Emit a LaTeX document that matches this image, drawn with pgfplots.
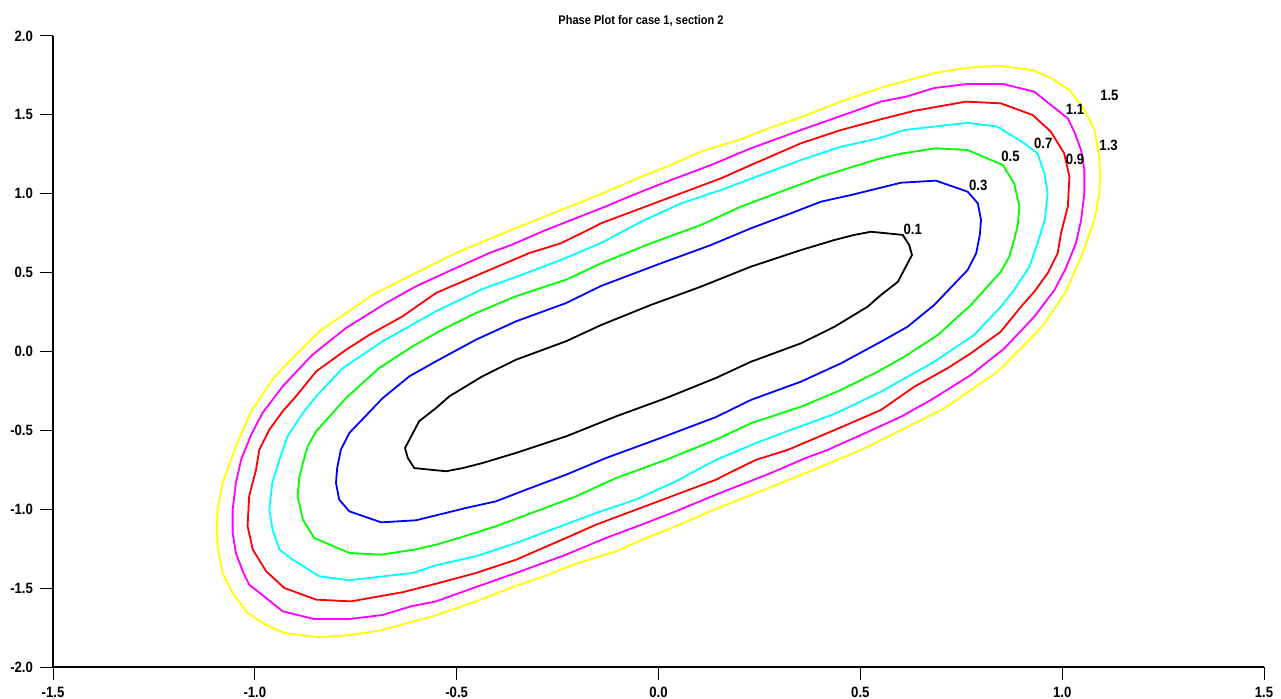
\documentclass[border=0pt]{standalone}
\usepackage{fontspec}
\usepackage{pgfplots}
\pgfplotsset{compat=1.18}
\newfontfamily\condfont[FakeStretch=0.88]{Liberation Sans}
\definecolor{cyellow}{RGB}{255,255,0}
\definecolor{cmagenta}{RGB}{255,0,255}
\definecolor{cred}{RGB}{255,0,0}
\definecolor{ccyan}{RGB}{0,255,255}
\definecolor{cgreen}{RGB}{0,255,0}
\definecolor{cblue}{RGB}{0,0,255}
\begin{document}
\begin{tikzpicture}
\begin{axis}[
  scale only axis, width=605.5bp, height=315.5bp,
  xmin=-1.5, xmax=1.5, ymin=-2, ymax=2,
  axis x line*=bottom, axis y line*=left,
  x axis line style={-, line width=1.3bp},
  y axis line style={-, line width=0.6bp},
  xtick={-1.5,-1,-0.5,0,0.5,1,1.5},
  xticklabels={{-1.5},{-1.0},{-0.5},{0.0},{0.5},{1.0},{1.5}},
  ytick={-2,-1.5,-1,-0.5,0,0.5,1,1.5,2},
  yticklabels={{-2.0},{-1.5},{-1.0},{-0.5},{0.0},{0.5},{1.0},{1.5},{2.0}},
  tick align=outside,
  major tick length=6.5bp,
  major tick style={line width=0.5bp, black},
  tick label style={font=\condfont\bfseries\fontsize{7.5}{8}\selectfont},
  /pgf/number format/assume math mode=true,
  title={Phase Plot for case 1, section 2},
  title style={at={(axis description cs:0.4856,1)}, anchor=center, yshift=1.75bp, inner sep=0pt, font=\condfont\bfseries\fontsize{6.3}{7}\selectfont},
  every axis plot/.append style={line width=0.9bp, mark=none},
]
% yellow 1.5
\addplot[cyellow] coordinates {
(-0.142,0.998) (-0.043,1.108) (0.031,1.182) (0.105,1.267) (0.204,1.345) (0.279,1.421) (0.353,1.485) (0.452,1.584) (0.551,1.672) (0.687,1.767) (0.762,1.797) (0.840,1.812) (0.927,1.784) (0.972,1.734) (1.018,1.658) (1.055,1.531) (1.080,1.404) (1.092,1.235) (1.094,1.119) (1.092,1.003) (1.080,0.834) (1.047,0.601) (1.009,0.379) (0.957,0.181) (0.931,0.105) (0.840,-0.128) (0.708,-0.360) (0.601,-0.498) (0.502,-0.624) (0.365,-0.770) (0.254,-0.884) (0.142,-0.998)
(0.043,-1.108) (-0.031,-1.182) (-0.105,-1.267) (-0.204,-1.345) (-0.279,-1.421) (-0.353,-1.485) (-0.452,-1.584) (-0.551,-1.672) (-0.687,-1.767) (-0.762,-1.797) (-0.840,-1.812) (-0.927,-1.784) (-0.972,-1.734) (-1.018,-1.658) (-1.055,-1.531) (-1.080,-1.404) (-1.092,-1.235) (-1.094,-1.119) (-1.092,-1.003) (-1.080,-0.834) (-1.047,-0.601) (-1.009,-0.379) (-0.957,-0.181) (-0.931,-0.105) (-0.840,0.128) (-0.708,0.360) (-0.601,0.498) (-0.502,0.624) (-0.365,0.770) (-0.254,0.884) (-0.142,0.998)
};
% magenta 1.3
\addplot[cmagenta] coordinates {
(-0.142,0.908) (-0.043,1.013) (0.031,1.087) (0.130,1.182) (0.229,1.288) (0.353,1.404) (0.452,1.493) (0.551,1.584) (0.613,1.615) (0.683,1.670) (0.766,1.696) (0.853,1.696) (0.931,1.647) (0.972,1.563) (1.014,1.478) (1.030,1.393) (1.047,1.277) (1.055,1.151) (1.055,1.003) (1.047,0.834) (1.034,0.686) (1.009,0.527) (0.981,0.390) (0.931,0.221) (0.857,0.020) (0.774,-0.149) (0.675,-0.307) (0.601,-0.413) (0.502,-0.529) (0.419,-0.624) (0.365,-0.675) (0.279,-0.770) (0.142,-0.908)
(0.043,-1.013) (-0.031,-1.087) (-0.130,-1.182) (-0.229,-1.288) (-0.353,-1.404) (-0.452,-1.493) (-0.551,-1.584) (-0.613,-1.615) (-0.683,-1.670) (-0.766,-1.696) (-0.853,-1.696) (-0.931,-1.647) (-0.972,-1.563) (-1.014,-1.478) (-1.030,-1.393) (-1.047,-1.277) (-1.055,-1.151) (-1.055,-1.003) (-1.047,-0.834) (-1.034,-0.686) (-1.009,-0.527) (-0.981,-0.390) (-0.931,-0.221) (-0.857,-0.020) (-0.774,0.149) (-0.675,0.307) (-0.601,0.413) (-0.502,0.529) (-0.419,0.624) (-0.365,0.675) (-0.279,0.770) (-0.142,0.908)
};
% red 1.1
\addplot[cred] coordinates {
(-0.142,0.813) (-0.043,0.908) (0.056,1.003) (0.155,1.098) (0.229,1.182) (0.353,1.320) (0.452,1.404) (0.551,1.472) (0.634,1.526) (0.762,1.584) (0.848,1.573) (0.927,1.499) (0.972,1.393) (1.005,1.256) (1.018,1.108) (1.014,0.918) (0.997,0.749) (0.989,0.623) (0.964,0.496) (0.931,0.379) (0.898,0.284) (0.848,0.126) (0.774,-0.011) (0.716,-0.106) (0.634,-0.223) (0.551,-0.371) (0.436,-0.498) (0.320,-0.624) (0.242,-0.686) (0.175,-0.770) (0.142,-0.813)
(0.043,-0.908) (-0.056,-1.003) (-0.155,-1.098) (-0.229,-1.182) (-0.353,-1.320) (-0.452,-1.404) (-0.551,-1.472) (-0.634,-1.526) (-0.762,-1.584) (-0.848,-1.573) (-0.927,-1.499) (-0.972,-1.393) (-1.005,-1.256) (-1.018,-1.108) (-1.014,-0.918) (-0.997,-0.749) (-0.989,-0.623) (-0.964,-0.496) (-0.931,-0.379) (-0.898,-0.284) (-0.848,-0.126) (-0.774,0.011) (-0.716,0.106) (-0.634,0.223) (-0.551,0.371) (-0.436,0.498) (-0.320,0.624) (-0.242,0.686) (-0.175,0.770) (-0.142,0.813)
};
% cyan 0.9
\addplot[ccyan] coordinates {
(-0.142,0.688) (-0.043,0.823) (0.056,0.939) (0.155,1.024) (0.254,1.119) (0.353,1.214) (0.452,1.298) (0.551,1.355) (0.609,1.404) (0.766,1.450) (0.840,1.425) (0.906,1.320) (0.939,1.256) (0.956,1.130) (0.964,1.003) (0.957,0.834) (0.939,0.686) (0.919,0.538) (0.881,0.390) (0.848,0.284) (0.782,0.105) (0.683,-0.065) (0.617,-0.160) (0.551,-0.255) (0.436,-0.396) (0.320,-0.504) (0.242,-0.580) (0.142,-0.688)
(0.043,-0.823) (-0.056,-0.939) (-0.155,-1.024) (-0.254,-1.119) (-0.353,-1.214) (-0.452,-1.298) (-0.551,-1.355) (-0.609,-1.404) (-0.766,-1.450) (-0.840,-1.425) (-0.906,-1.320) (-0.939,-1.256) (-0.956,-1.130) (-0.964,-1.003) (-0.957,-0.834) (-0.939,-0.686) (-0.919,-0.538) (-0.881,-0.390) (-0.848,-0.284) (-0.782,-0.105) (-0.683,0.065) (-0.617,0.160) (-0.551,0.255) (-0.436,0.396) (-0.320,0.504) (-0.242,0.580) (-0.142,0.688)
};
% green 0.7
\addplot[cgreen] coordinates {
(-0.142,0.559) (-0.019,0.686) (0.105,0.802) (0.204,0.918) (0.303,1.013) (0.403,1.108) (0.477,1.168) (0.551,1.225) (0.605,1.256) (0.687,1.288) (0.766,1.277) (0.853,1.182) (0.881,1.066) (0.894,0.918) (0.890,0.802) (0.881,0.707) (0.869,0.601) (0.848,0.506) (0.774,0.295) (0.692,0.105) (0.609,-0.033) (0.543,-0.128) (0.452,-0.244) (0.353,-0.350) (0.229,-0.455) (0.142,-0.559)
(0.019,-0.686) (-0.105,-0.802) (-0.204,-0.918) (-0.303,-1.013) (-0.403,-1.108) (-0.477,-1.168) (-0.551,-1.225) (-0.605,-1.256) (-0.687,-1.288) (-0.766,-1.277) (-0.853,-1.182) (-0.881,-1.066) (-0.894,-0.918) (-0.890,-0.802) (-0.881,-0.707) (-0.869,-0.601) (-0.848,-0.506) (-0.774,-0.295) (-0.692,-0.105) (-0.609,0.033) (-0.543,0.128) (-0.452,0.244) (-0.353,0.350) (-0.229,0.455) (-0.142,0.559)
};
% blue 0.3
\addplot[cblue] coordinates {
(-0.142,0.416) (0.006,0.559) (0.130,0.675) (0.229,0.781) (0.328,0.876) (0.403,0.950) (0.477,0.992) (0.601,1.070) (0.687,1.083) (0.766,1.013) (0.791,0.939) (0.799,0.834) (0.796,0.739) (0.787,0.623) (0.766,0.517) (0.683,0.295) (0.617,0.157) (0.551,0.062) (0.452,-0.075) (0.353,-0.191) (0.229,-0.307) (0.142,-0.416)
(-0.006,-0.559) (-0.130,-0.675) (-0.229,-0.781) (-0.328,-0.876) (-0.403,-0.950) (-0.477,-0.992) (-0.601,-1.070) (-0.687,-1.083) (-0.766,-1.013) (-0.791,-0.939) (-0.799,-0.834) (-0.796,-0.739) (-0.787,-0.623) (-0.766,-0.517) (-0.683,-0.295) (-0.617,-0.157) (-0.551,-0.062) (-0.452,0.075) (-0.353,0.191) (-0.229,0.307) (-0.142,0.416)
};
% black 0.1
\addplot[black] coordinates {
(-0.142,0.168) (-0.019,0.295) (0.105,0.411) (0.229,0.538) (0.353,0.643) (0.436,0.707) (0.485,0.739) (0.526,0.759) (0.551,0.753) (0.605,0.739) (0.621,0.675) (0.628,0.612) (0.617,0.559) (0.593,0.442) (0.551,0.358) (0.518,0.284) (0.436,0.157) (0.353,0.052) (0.229,-0.065) (0.142,-0.168)
(0.019,-0.295) (-0.105,-0.411) (-0.229,-0.538) (-0.353,-0.643) (-0.436,-0.707) (-0.485,-0.739) (-0.526,-0.759) (-0.551,-0.753) (-0.605,-0.739) (-0.621,-0.675) (-0.628,-0.612) (-0.617,-0.559) (-0.593,-0.442) (-0.551,-0.358) (-0.518,-0.284) (-0.436,-0.157) (-0.353,-0.052) (-0.229,0.065) (-0.142,0.168)
};
\begin{scope}[every node/.style={font=\condfont\bfseries\fontsize{7.5}{8}\selectfont, inner sep=0pt}]
\node at (axis cs:1.117,1.626) {1.5};
\node at (axis cs:1.032,1.535) {1.1};
\node at (axis cs:1.115,1.309) {1.3};
\node at (axis cs:0.953,1.320) {0.7};
\node at (axis cs:1.032,1.220) {0.9};
\node at (axis cs:0.872,1.239) {0.5};
\node at (axis cs:0.792,1.054) {0.3};
\node at (axis cs:0.630,0.775) {0.1};
\end{scope}
\coordinate (SW) at (rel axis cs:0,0);
\coordinate (NE) at (rel axis cs:1,1);
\end{axis}
\pgfresetboundingbox
\path ([shift={(-26.5bp,-16bp)}]SW) rectangle ([shift={(8.5bp,18bp)}]NE);
\end{tikzpicture}
\end{document}
